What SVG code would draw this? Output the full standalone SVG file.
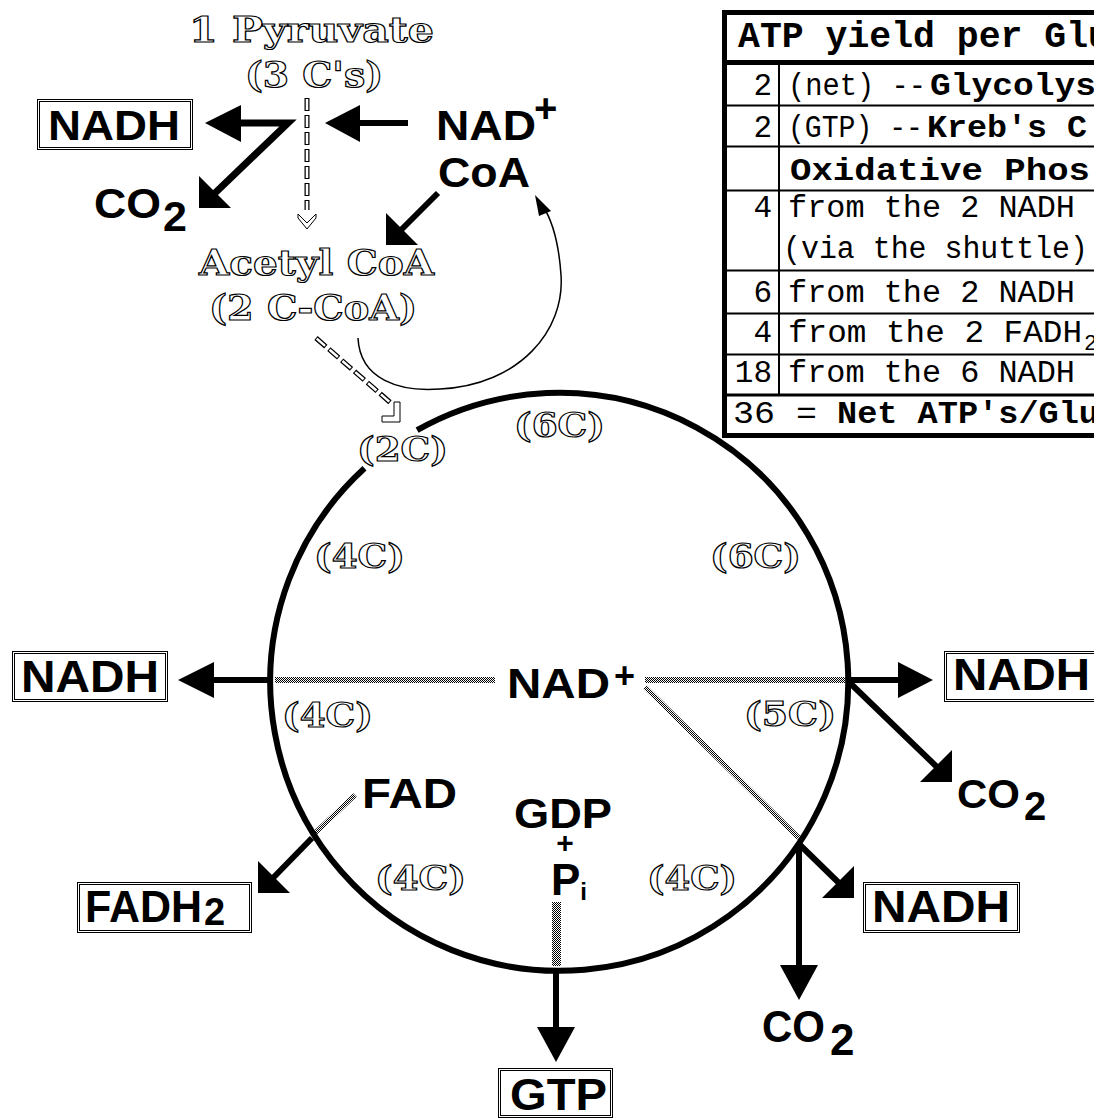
<svg xmlns="http://www.w3.org/2000/svg" width="1094" height="1120" viewBox="0 0 1094 1120">
<defs>
<pattern id="dots" width="2" height="2" patternUnits="userSpaceOnUse"><rect x="0" y="0" width="1" height="1" fill="#000"/><rect x="1" y="1" width="1" height="1" fill="#000"/></pattern>
</defs>
<style>
.ol{font-family:"DejaVu Serif","Liberation Serif",serif;font-weight:bold;fill:#fff;stroke:#000;stroke-width:1.2}
.bs{font-family:"Liberation Sans",Arial,sans-serif;font-weight:bold;fill:#000}
.mono{font-family:"Liberation Mono","DejaVu Sans Mono",monospace;fill:#000;font-size:31px}
.mb{font-weight:bold}
.box{fill:#fff;stroke:#000;stroke-width:1}
.shaft{stroke:#000;stroke-width:6;fill:none}
.head{fill:#000}
.dk{stroke:#000;stroke-width:5;fill:none;stroke-dasharray:13 4}
.dw{stroke:#fff;stroke-width:2.5;fill:none;stroke-dasharray:11 6;stroke-dashoffset:-1}
.hl{fill:#fff;stroke:#000;stroke-width:1}
.tl{stroke:#000;fill:none}
</style>
<rect width="1094" height="1120" fill="#fff"/>

<g id="cycle">
<path d="M 417.1 430.2 A 289 289 0 1 1 364.5 468.3" fill="none" stroke="#000" stroke-width="6"/>
</g>

<g id="connectors">
<line class="dk" x1="307" y1="98" x2="307" y2="210"/>
<line class="dw" x1="307" y1="98" x2="307" y2="210"/>
<polygon class="hl" points="298,214 307,223 316,214 316,218 307,229 298,218"/>
<polyline points="240,123 288,123 214,194" stroke="#000" stroke-width="7" fill="none" stroke-linejoin="miter"/>
<polygon class="head" points="205,123 241,105 241,142"/>
<polygon class="head" points="199,208 199,176 231,208"/>
<line class="shaft" x1="356" y1="123" x2="408" y2="123" stroke-width="7"/>
<polygon class="head" points="325,123 360,105 360,142"/>
<line class="shaft" x1="438" y1="193" x2="400" y2="231" stroke-width="7"/>
<polygon class="head" points="386,245 386,213 418,245"/>
<path d="M 358 338 C 360 380, 400 392, 440 389 C 520 385, 565 330, 561 275 C 559 245, 553 222, 543 206" fill="none" stroke="#000" stroke-width="1.5"/>
<polygon class="head" points="535,195 551,211 539,216"/>
<line class="dk" x1="316" y1="338" x2="392" y2="404"/>
<line class="dw" x1="316" y1="338" x2="392" y2="404"/>
<polygon class="hl" points="394,402 400,402 400,422 382,422 382,416 394,416"/>
<rect x="275" y="677" width="220" height="6" fill="url(#dots)"/>
<rect x="645" y="677" width="203" height="6" fill="url(#dots)"/>
<line x1="645" y1="687" x2="799" y2="838" stroke="url(#dots)" stroke-width="5"/>
<line x1="355" y1="795" x2="314" y2="834" stroke="url(#dots)" stroke-width="5"/>
<rect x="552" y="902" width="9" height="64" fill="url(#dots)"/>
<line class="shaft" x1="272" y1="680" x2="210" y2="680"/>
<polygon class="head" points="178,680 214,662 214,698"/>
<line class="shaft" x1="846" y1="680" x2="902" y2="680"/>
<polygon class="head" points="933,680 898,662 898,698"/>
<line class="shaft" x1="850" y1="683" x2="938" y2="768"/>
<polygon class="head" points="952,782 952,750 920,782"/>
<line class="shaft" x1="800" y1="845" x2="840" y2="884"/>
<polygon class="head" points="854,898 854,866 822,898"/>
<line class="shaft" x1="799" y1="845" x2="799" y2="968"/>
<polygon class="head" points="799,1000 780,965 818,965"/>
<line class="shaft" x1="312" y1="838" x2="272" y2="879"/>
<polygon class="head" points="258,893 258,861 290,893"/>
<line class="shaft" x1="556" y1="971" x2="556" y2="1030"/>
<polygon class="head" points="556,1062 537,1027 575,1027"/>
</g>

<g id="pyruvate"><text class="ol" x="189" y="42" font-size="36" textLength="245" lengthAdjust="spacingAndGlyphs">1 Pyruvate</text>
<text class="ol" x="245" y="87" font-size="36" textLength="138" lengthAdjust="spacingAndGlyphs">(3 C's)</text></g>
<g id="acetylcoa"><text class="ol" x="199" y="275" font-size="36" textLength="235" lengthAdjust="spacingAndGlyphs">Acetyl CoA</text>
<text class="ol" x="209" y="320" font-size="36" textLength="208" lengthAdjust="spacingAndGlyphs">(2 C-CoA)</text></g>

<g id="nadh-top"><rect class="box" x="37.5" y="99.5" width="155" height="50"/><rect class="box" x="39.5" y="101.5" width="151" height="46"/>
<text class="bs" x="48" y="140" font-size="42" textLength="132" lengthAdjust="spacingAndGlyphs">NADH</text></g>
<g id="co2-top"><text class="bs" x="94" y="218" font-size="43" textLength="67" lengthAdjust="spacingAndGlyphs">CO</text><text class="bs" x="163" y="231" font-size="43">2</text></g>
<g id="nad-top"><text class="bs" x="436" y="140" font-size="42" textLength="100" lengthAdjust="spacingAndGlyphs">NAD</text><text class="bs" x="534" y="122" font-size="40">+</text></g>
<g id="coa-top"><text class="bs" x="438" y="187" font-size="42" textLength="92" lengthAdjust="spacingAndGlyphs">CoA</text></g>

<g id="carbon-labels">
<text class="ol" x="514" y="437" font-size="34" textLength="91" lengthAdjust="spacingAndGlyphs">(6C)</text>
<text class="ol" x="357" y="461" font-size="34" textLength="91" lengthAdjust="spacingAndGlyphs">(2C)</text>
<text class="ol" x="314" y="568" font-size="34" textLength="91" lengthAdjust="spacingAndGlyphs">(4C)</text>
<text class="ol" x="710" y="568" font-size="34" textLength="91" lengthAdjust="spacingAndGlyphs">(6C)</text>
<text class="ol" x="282" y="727" font-size="34" textLength="91" lengthAdjust="spacingAndGlyphs">(4C)</text>
<text class="ol" x="744" y="726" font-size="34" textLength="92" lengthAdjust="spacingAndGlyphs">(5C)</text>
<text class="ol" x="375" y="890" font-size="34" textLength="91" lengthAdjust="spacingAndGlyphs">(4C)</text>
<text class="ol" x="647" y="890" font-size="34" textLength="90" lengthAdjust="spacingAndGlyphs">(4C)</text>
</g>

<g id="nad-center"><text class="bs" x="507" y="698" font-size="42" textLength="103" lengthAdjust="spacingAndGlyphs">NAD</text><text class="bs" x="614" y="688" font-size="36">+</text></g>
<g id="fad"><text class="bs" x="362" y="808" font-size="42" textLength="95" lengthAdjust="spacingAndGlyphs">FAD</text></g>
<g id="gdp"><text class="bs" x="514" y="828" font-size="42" textLength="98" lengthAdjust="spacingAndGlyphs">GDP</text>
<text class="bs" x="565" y="853" font-size="30" text-anchor="middle">+</text>
<text class="bs" x="551" y="895" font-size="44">P<tspan font-size="24" y="900">i</tspan></text></g>

<g id="nadh-left"><rect class="box" x="12.5" y="651.5" width="155" height="50"/><rect class="box" x="14.5" y="653.5" width="151" height="46"/>
<text class="bs" x="21" y="692" font-size="44" textLength="138" lengthAdjust="spacingAndGlyphs">NADH</text></g>
<g id="nadh-right"><rect class="box" x="944.5" y="651.5" width="160" height="50"/><rect class="box" x="946.5" y="653.5" width="156" height="46"/>
<text class="bs" x="953" y="690" font-size="44" textLength="137" lengthAdjust="spacingAndGlyphs">NADH</text></g>
<g id="co2-right"><text class="bs" x="957" y="808" font-size="40" textLength="63" lengthAdjust="spacingAndGlyphs">CO</text><text class="bs" x="1024" y="820" font-size="40">2</text></g>
<g id="nadh-lowright"><rect class="box" x="863.5" y="882.5" width="156" height="50"/><rect class="box" x="865.5" y="884.5" width="152" height="46"/>
<text class="bs" x="872" y="922" font-size="44" textLength="138" lengthAdjust="spacingAndGlyphs">NADH</text></g>
<g id="co2-bottom"><text class="bs" x="762" y="1042" font-size="44" textLength="63" lengthAdjust="spacingAndGlyphs">CO</text><text class="bs" x="830" y="1055" font-size="44">2</text></g>
<g id="fadh2"><rect class="box" x="77.5" y="882.5" width="174" height="50"/><rect class="box" x="79.5" y="884.5" width="170" height="46"/>
<text class="bs" x="85" y="922" font-size="44" textLength="117" lengthAdjust="spacingAndGlyphs">FADH</text><text class="bs" x="204" y="925" font-size="38">2</text></g>
<g id="gtp"><rect class="box" x="498.5" y="1068.5" width="114" height="49"/><rect class="box" x="500.5" y="1070.5" width="110" height="45"/>
<text class="bs" x="510" y="1110" font-size="45" textLength="97" lengthAdjust="spacingAndGlyphs">GTP</text></g>

<g id="table">
<rect x="724.5" y="12.5" width="380" height="423" fill="#fff" stroke="none"/>
<line class="tl" x1="722" y1="12.5" x2="1094" y2="12.5" stroke-width="5"/>
<line class="tl" x1="724.5" y1="10" x2="724.5" y2="438" stroke-width="5"/>
<line class="tl" x1="722" y1="62.5" x2="1094" y2="62.5" stroke-width="5"/>
<line class="tl" x1="722" y1="105.5" x2="1094" y2="105.5" stroke-width="2"/>
<line class="tl" x1="722" y1="146.5" x2="1094" y2="146.5" stroke-width="2"/>
<line class="tl" x1="722" y1="190.5" x2="1094" y2="190.5" stroke-width="2"/>
<line class="tl" x1="722" y1="270.5" x2="1094" y2="270.5" stroke-width="2"/>
<line class="tl" x1="722" y1="313.5" x2="1094" y2="313.5" stroke-width="2"/>
<line class="tl" x1="722" y1="354.5" x2="1094" y2="354.5" stroke-width="2"/>
<line class="tl" x1="722" y1="395" x2="1094" y2="395" stroke-width="3"/>
<line class="tl" x1="722" y1="435.5" x2="1094" y2="435.5" stroke-width="5"/>
<line class="tl" x1="779" y1="65" x2="779" y2="394" stroke-width="2"/>
<text class="mono mb" x="738" y="47" style="font-size:36px" textLength="372" lengthAdjust="spacingAndGlyphs">ATP yield per Glu</text>
<text class="mono" x="772" y="95" text-anchor="end">2</text>
<text class="mono" x="788" y="95" textLength="138" lengthAdjust="spacingAndGlyphs">(net) --</text>
<text class="mono mb" x="930" y="95" textLength="166" lengthAdjust="spacingAndGlyphs">Glycolys</text>
<text class="mono" x="772" y="137" text-anchor="end">2</text>
<text class="mono" x="788" y="137" textLength="135" lengthAdjust="spacingAndGlyphs">(GTP) --</text>
<text class="mono mb" x="927" y="137" textLength="160" lengthAdjust="spacingAndGlyphs">Kreb's C</text>
<text class="mono mb" x="790" y="180" textLength="300" lengthAdjust="spacingAndGlyphs">Oxidative Phos</text>
<text class="mono" x="772" y="217" text-anchor="end">4</text>
<text class="mono" x="788" y="217" textLength="287" lengthAdjust="spacingAndGlyphs">from the 2 NADH</text>
<text class="mono" x="783" y="258" textLength="305" lengthAdjust="spacingAndGlyphs">(via the shuttle)</text>
<text class="mono" x="772" y="302" text-anchor="end">6</text>
<text class="mono" x="788" y="302" textLength="287" lengthAdjust="spacingAndGlyphs">from the 2 NADH</text>
<text class="mono" x="772" y="342" text-anchor="end">4</text>
<text class="mono" x="788" y="342" textLength="294" lengthAdjust="spacingAndGlyphs">from the 2 FADH</text>
<text class="mono" x="1084" y="350" style="font-size:22px">2</text>
<text class="mono" x="772" y="382" text-anchor="end">18</text>
<text class="mono" x="788" y="382" textLength="287" lengthAdjust="spacingAndGlyphs">from the 6 NADH</text>
<text class="mono" x="733" y="423" textLength="84" lengthAdjust="spacingAndGlyphs">36 =</text>
<text class="mono mb" x="837" y="423" textLength="262" lengthAdjust="spacingAndGlyphs">Net ATP's/Glu</text>
</g>
</svg>
